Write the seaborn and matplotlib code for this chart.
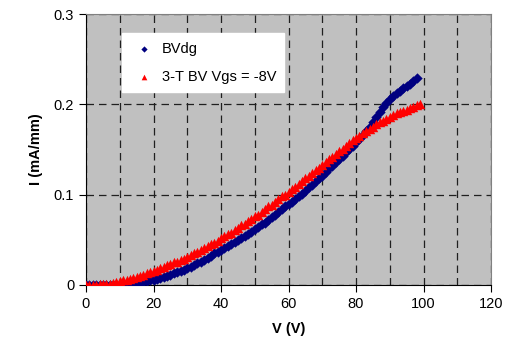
import numpy as np
import pandas as pd
import matplotlib
matplotlib.use("Agg")
import matplotlib.pyplot as plt
import seaborn as sns

# values (1 V steps of the sweep)
volts_bvdg = list(range(0, 99))
bvdg = [0.000, 0.000, 0.000, 0.000, 0.000, 0.000, 0.000, 0.000, 0.000, 0.000, 0.000,
        0.000, 0.001, 0.001, 0.002, 0.002, 0.003, 0.003, 0.004, 0.005, 0.006,
        0.007, 0.008, 0.009, 0.010, 0.011, 0.013, 0.014, 0.016, 0.017, 0.019,
        0.020, 0.022, 0.024, 0.026, 0.028, 0.030, 0.032, 0.035, 0.037, 0.039,
        0.041, 0.043, 0.045, 0.048, 0.050, 0.052, 0.054, 0.057, 0.059, 0.062,
        0.064, 0.067, 0.069, 0.072, 0.075, 0.078, 0.081, 0.084, 0.087, 0.090,
        0.092, 0.095, 0.098, 0.101, 0.104, 0.108, 0.111, 0.115, 0.118, 0.121,
        0.125, 0.129, 0.132, 0.136, 0.139, 0.143, 0.147, 0.151, 0.154, 0.158,
        0.162, 0.166, 0.170, 0.175, 0.180, 0.186, 0.191, 0.197, 0.202, 0.206,
        0.209, 0.212, 0.215, 0.218, 0.220, 0.223, 0.226, 0.229]
volts_3t = list(range(0, 100))
three_t = [0.000, 0.000, 0.000, 0.000, 0.001, 0.001, 0.001, 0.001, 0.002, 0.003, 0.004,
           0.005, 0.006, 0.007, 0.008, 0.009, 0.010, 0.011, 0.013, 0.014, 0.015,
           0.017, 0.019, 0.020, 0.022, 0.023, 0.025, 0.026, 0.028, 0.029, 0.031,
           0.033, 0.035, 0.037, 0.039, 0.041, 0.043, 0.045, 0.047, 0.049, 0.052,
           0.054, 0.056, 0.058, 0.061, 0.063, 0.066, 0.068, 0.071, 0.073, 0.076,
           0.078, 0.081, 0.084, 0.087, 0.089, 0.092, 0.095, 0.098, 0.100, 0.103,
           0.106, 0.109, 0.112, 0.115, 0.118, 0.121, 0.124, 0.127, 0.130, 0.133,
           0.136, 0.139, 0.142, 0.145, 0.148, 0.151, 0.154, 0.157, 0.160, 0.163,
           0.165, 0.168, 0.170, 0.173, 0.175, 0.178, 0.180, 0.182, 0.184, 0.186,
           0.188, 0.190, 0.191, 0.193, 0.194, 0.196, 0.197, 0.199, 0.200]
series_names = ["BVdg", "3-T BV Vgs = -8V"]

plt.rcParams["font.family"] = ["Liberation Sans", "DejaVu Sans"]

fig, ax = plt.subplots(figsize=(5.13, 3.62), dpi=100)
fig.subplots_adjust(left=86 / 513, right=491 / 513, top=1 - 14 / 362, bottom=1 - 285 / 362)
ax.set_facecolor("#C0C0C0")

sns.scatterplot(x=volts_bvdg, y=bvdg, color="#000080", marker="D", s=28,
                linewidth=0, label=series_names[0], ax=ax, zorder=3)
sns.scatterplot(x=volts_3t, y=three_t, color="#FF0000", marker="^", s=46,
                linewidth=0, label=series_names[1], ax=ax, zorder=4)

ax.set_xlim(0, 120)
ax.set_ylim(0, 0.3)
ax.set_xticks(np.arange(0, 121, 20))
ax.set_xticks(np.arange(0, 121, 10), minor=True)
ax.set_yticks([0, 0.1, 0.2, 0.3])
ax.set_yticklabels(["0", "0.1", "0.2", "0.3"])
ax.tick_params(axis="both", which="major", labelsize=10.5, length=5, direction="out", color="black")
ax.tick_params(axis="x", which="minor", length=0)
ax.grid(True, which="both", axis="x", color="#202020", linestyle=(0, (6, 4)), linewidth=0.9)
ax.grid(True, which="major", axis="y", color="#202020", linestyle=(0, (6, 4)), linewidth=0.9)
ax.set_axisbelow(True)

for side in ["top", "right"]:
    ax.spines[side].set_color("#808080")
for side in ["left", "bottom"]:
    ax.spines[side].set_color("black")

ax.set_xlabel("V (V)", fontsize=10.5, fontweight="bold", labelpad=8)
ax.set_ylabel("I (mA/mm)", fontsize=10.5, fontweight="bold", labelpad=8)

leg = ax.legend(loc="upper left", bbox_to_anchor=(0.07, 0.955), fontsize=10.5,
                frameon=True, fancybox=False, edgecolor="white", facecolor="white",
                framealpha=1, handletextpad=0.2, borderpad=0.55, labelspacing=1.0,
                markerscale=0.6)

plt.savefig("out.png", dpi=100)
